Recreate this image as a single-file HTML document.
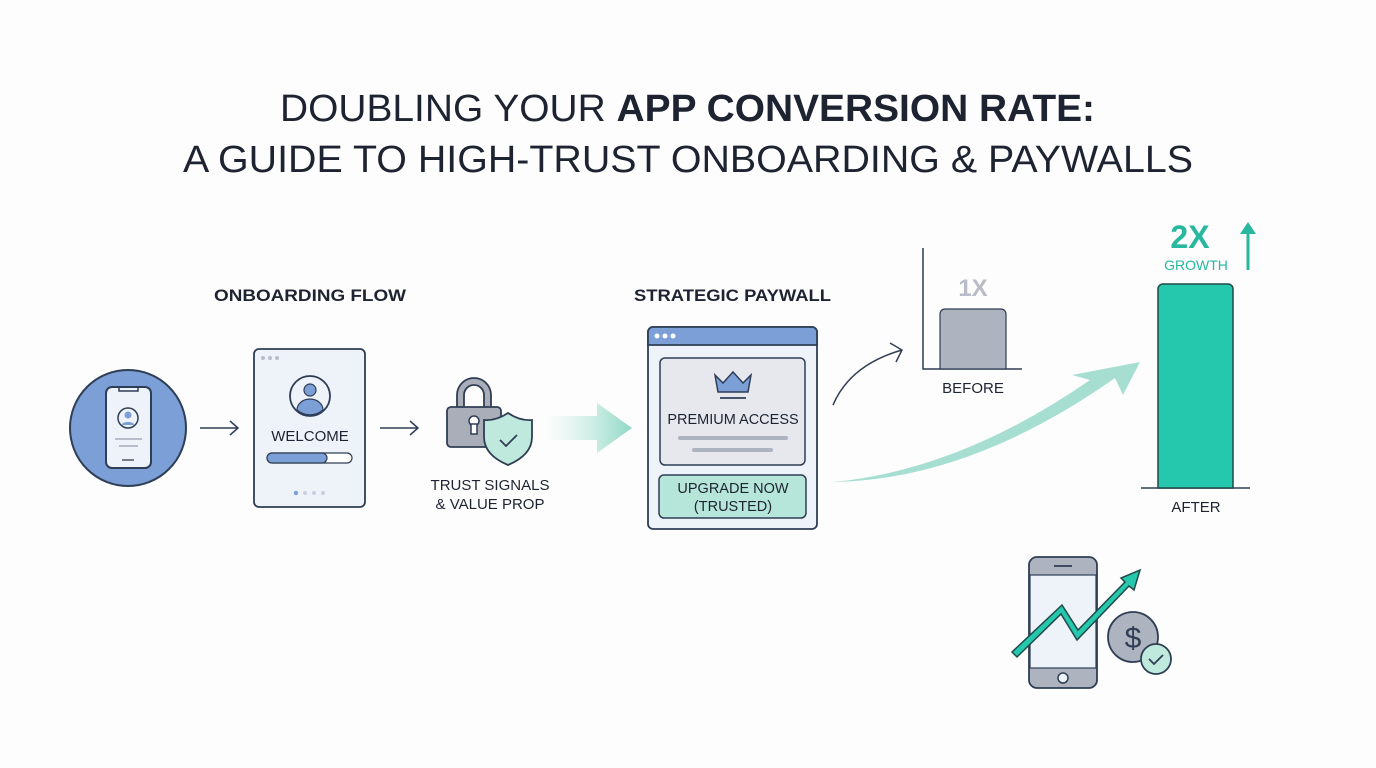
<!DOCTYPE html>
<html><head><meta charset="utf-8"><style>
html,body{margin:0;padding:0;background:#fff;}
svg{display:block;font-family:"Liberation Sans",sans-serif;}
</style></head><body>
<svg width="1376" height="768" viewBox="0 0 1376 768" xmlns="http://www.w3.org/2000/svg">
<defs>
<linearGradient id="fa" x1="0" x2="1" y1="0" y2="0"><stop offset="0" stop-color="#bfe9dd" stop-opacity="0"/><stop offset="1" stop-color="#8fd8c6"/></linearGradient>
</defs>
<rect width="1376" height="768" fill="#fdfdfd"/>
<text x="280" y="121" textLength="815" lengthAdjust="spacingAndGlyphs" font-size="38" fill="#1d2330">DOUBLING YOUR <tspan font-weight="bold">APP CONVERSION RATE:</tspan></text>
<text x="183" y="172" textLength="1010" lengthAdjust="spacingAndGlyphs" font-size="38" fill="#1d2330">A GUIDE TO HIGH-TRUST ONBOARDING &amp; PAYWALLS</text>

<text x="214" y="301" textLength="192" lengthAdjust="spacingAndGlyphs" font-size="17" font-weight="bold" fill="#1d2330">ONBOARDING FLOW</text>
<text x="634" y="301" textLength="197" lengthAdjust="spacingAndGlyphs" font-size="17" font-weight="bold" fill="#1d2330">STRATEGIC PAYWALL</text>

<!-- circle phone -->
<circle cx="128" cy="428" r="58" fill="#7b9fd6" stroke="#2f3e55" stroke-width="2"/>
<rect x="106" y="387" width="45" height="81" rx="6" fill="#eef2f9" stroke="#2f3e55" stroke-width="2"/>
<path d="M119 388 v3 h19 v-3" fill="none" stroke="#2f3e55" stroke-width="1.5"/>
<circle cx="128" cy="418" r="10" fill="#eef2f9" stroke="#2f3e55" stroke-width="1.5"/>
<circle cx="128" cy="415" r="3.5" fill="#7b9fd6"/>
<path d="M121 425 a8 6 0 0 1 14 0" fill="#7b9fd6"/>
<line x1="115" y1="439" x2="142" y2="439" stroke="#aab" stroke-width="1.5"/>
<line x1="119" y1="446" x2="138" y2="446" stroke="#aab" stroke-width="1.5"/>
<line x1="122" y1="460" x2="134" y2="460" stroke="#556" stroke-width="1.5"/>

<path d="M200 428 H238 M230 421 L238 428 L230 435" fill="none" stroke="#2f3e55" stroke-width="1.5"/>

<!-- welcome card -->
<rect x="254" y="349" width="111" height="158" rx="5" fill="#eef2f9" stroke="#2f3e55" stroke-width="1.8"/>
<circle cx="263" cy="358" r="2" fill="#bbc"/><circle cx="270" cy="358" r="2" fill="#bbc"/><circle cx="277" cy="358" r="2" fill="#bbc"/>
<circle cx="310" cy="396" r="20" fill="#eef2f9" stroke="#2f3e55" stroke-width="1.8"/>
<circle cx="310" cy="390" r="6" fill="#7b9fd6" stroke="#2f3e55" stroke-width="1.2"/>
<path d="M297 410 a13 11 0 0 1 26 0 a20 20 0 0 1 -26 0z" fill="#7b9fd6" stroke="#2f3e55" stroke-width="1.2"/>
<text x="310" y="441" text-anchor="middle" font-size="15" fill="#1d2330">WELCOME</text>
<rect x="267" y="453" width="85" height="10" rx="5" fill="#fff" stroke="#2f3e55" stroke-width="1.2"/>
<rect x="267" y="453" width="60" height="10" rx="5" fill="#7b9fd6" stroke="#2f3e55" stroke-width="1.2"/>
<circle cx="296" cy="493" r="2.2" fill="#7b9fd6"/><circle cx="305" cy="493" r="2" fill="#ccd"/><circle cx="314" cy="493" r="2" fill="#ccd"/><circle cx="323" cy="493" r="2" fill="#ccd"/>

<path d="M380 428 H418 M410 421 L418 428 L410 435" fill="none" stroke="#2f3e55" stroke-width="1.5"/>

<!-- lock -->
<path d="M457 409 v-14 a17 17 0 0 1 34 0 v14 h-7 v-14 a10 10 0 0 0 -20 0 v14z" fill="#a9aeb8" stroke="#2f3e55" stroke-width="1.8"/>
<rect x="447" y="407" width="54" height="40" rx="4" fill="#a9aeb8" stroke="#2f3e55" stroke-width="1.8"/>
<circle cx="474" cy="421" r="5" fill="#fff" stroke="#2f3e55" stroke-width="1.5"/>
<rect x="471" y="424" width="6" height="10" fill="#fff" stroke="#2f3e55" stroke-width="1.5"/>
<path d="M508 413 q12 8 24 7 v17 q0 18 -24 28 q-24 -10 -24 -28 v-17 q12 1 24 -7z" fill="#bfe9dd" stroke="#2f3e55" stroke-width="1.8"/>
<path d="M500 440 l6 6 l11 -11" fill="none" stroke="#2f3e55" stroke-width="1.8"/>
<text x="490" y="490" text-anchor="middle" font-size="15" fill="#1d2330">TRUST SIGNALS</text>
<text x="490" y="509" text-anchor="middle" font-size="15" fill="#1d2330">&amp; VALUE PROP</text>

<path d="M545 416 H597 V403 L632 428 L597 453 V440 H545z" fill="url(#fa)"/>

<!-- paywall -->
<rect x="648" y="327" width="169" height="202" rx="5" fill="#eef2f9" stroke="#2f3e55" stroke-width="1.8"/>
<path d="M648 345 V332 a5 5 0 0 1 5 -5 H812 a5 5 0 0 1 5 5 V345z" fill="#7b9fd6" stroke="#2f3e55" stroke-width="1.8"/>
<circle cx="657" cy="336" r="2.5" fill="#fff"/><circle cx="665" cy="336" r="2.5" fill="#fff"/><circle cx="673" cy="336" r="2.5" fill="#fff"/>
<rect x="660" y="358" width="145" height="107" rx="5" fill="#e6e8ee" stroke="#2f3e55" stroke-width="1.5"/>
<path d="M715 375 l8 8 l10 -11 l10 11 l8 -8 l-3 17 h-30z" fill="#7b9fd6" stroke="#2f3e55" stroke-width="1.5"/>
<line x1="720" y1="398" x2="746" y2="398" stroke="#2f3e55" stroke-width="1.8"/>
<text x="733" y="424" text-anchor="middle" font-size="14.5" fill="#1d2330">PREMIUM ACCESS</text>
<line x1="680" y1="438" x2="786" y2="438" stroke="#adb3bf" stroke-width="4" stroke-linecap="round"/>
<line x1="694" y1="450" x2="771" y2="450" stroke="#adb3bf" stroke-width="4" stroke-linecap="round"/>
<rect x="659" y="475" width="147" height="43" rx="5" fill="#b5e6d9" stroke="#2f3e55" stroke-width="1.5"/>
<text x="733" y="493" text-anchor="middle" font-size="14.5" fill="#1d2330">UPGRADE NOW</text>
<text x="733" y="511" text-anchor="middle" font-size="14.5" fill="#1d2330">(TRUSTED)</text>

<!-- curved arrow -->
<path d="M833 405 Q850 365 902 350" fill="none" stroke="#2f3e55" stroke-width="1.5"/>
<path d="M890 343 L902 350 L896 362" fill="none" stroke="#2f3e55" stroke-width="1.5"/>

<!-- before chart -->
<polyline points="923,248 923,369 1022,369" fill="none" stroke="#2f3e55" stroke-width="1.5"/>
<path d="M940 369 V314 a5 5 0 0 1 5 -5 H1001 a5 5 0 0 1 5 5 V369z" fill="#adb3bf" stroke="#2f3e55" stroke-width="1.2"/>
<text x="973" y="296" text-anchor="middle" font-size="24" font-weight="bold" fill="#b8bcc6">1X</text>
<text x="973" y="393" text-anchor="middle" font-size="15" fill="#1d2330">BEFORE</text>

<!-- big arrow -->
<path d="M833 482 Q970 480 1115 378 L1123 395 L1140 362 L1072 375 L1090 380 Q960 470 833 482z" fill="#a6dfd2"/>

<!-- after bar -->
<line x1="1141" y1="488" x2="1250" y2="488" stroke="#2f3e55" stroke-width="1.5"/>
<path d="M1158 488 V289 a5 5 0 0 1 5 -5 H1228 a5 5 0 0 1 5 5 V488z" fill="#26c8ad" stroke="#1f4a4a" stroke-width="1.5"/>
<text x="1196" y="512" text-anchor="middle" font-size="15" fill="#1d2330">AFTER</text>
<text x="1190" y="248" text-anchor="middle" font-size="32" font-weight="bold" fill="#27b89f">2X</text>
<text x="1196" y="270" text-anchor="middle" font-size="14" fill="#27b89f">GROWTH</text>
<path d="M1248 270 V228" stroke="#27b89f" stroke-width="3"/>
<path d="M1240 234 L1248 222 L1256 234z" fill="#27b89f"/>

<!-- bottom phone -->
<rect x="1029" y="557" width="68" height="131" rx="8" fill="#adb3bf" stroke="#2f3e55" stroke-width="1.8"/>
<rect x="1030" y="575" width="66" height="93" fill="#eef2f9" stroke="#2f3e55" stroke-width="1.2"/>
<line x1="1054" y1="566" x2="1072" y2="566" stroke="#2f3e55" stroke-width="1.8"/>
<circle cx="1063" cy="678" r="5" fill="#eef2f9" stroke="#2f3e55" stroke-width="1.5"/>
<path d="M1012 652 L1062 605 L1078 630 L1125 582 L1121 578 L1140 570 L1134 590 L1129 586 L1077 640 L1061 614 L1017 657z" fill="#26c8ad" stroke="#1f4a4a" stroke-width="1.5"/>
<circle cx="1133" cy="637" r="25" fill="#adb3bf" stroke="#2f3e55" stroke-width="1.8"/>
<text x="1133" y="648" text-anchor="middle" font-size="30" fill="#2f3e55">$</text>
<circle cx="1156" cy="659" r="15" fill="#bfe9dd" stroke="#2f3e55" stroke-width="1.8"/>
<path d="M1149 659 l5 5 l9 -9" fill="none" stroke="#2f3e55" stroke-width="1.8"/>
</svg>
</body></html>
